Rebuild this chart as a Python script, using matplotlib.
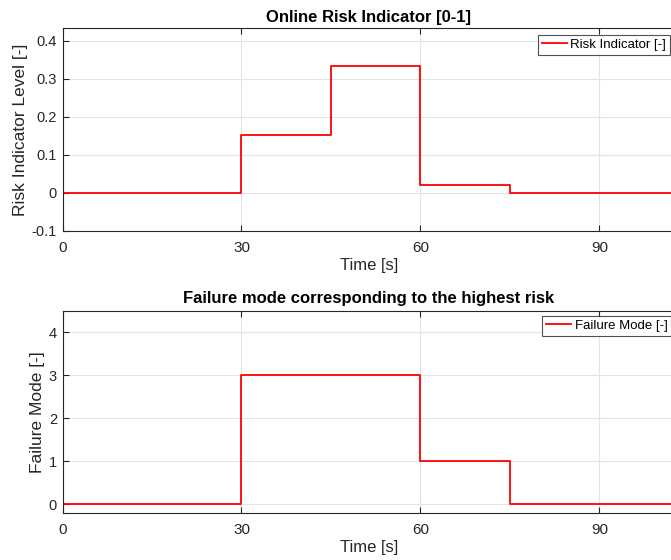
import matplotlib
matplotlib.use("Agg")
import matplotlib.pyplot as plt

plt.rcParams['font.family'] = ['Liberation Sans', 'DejaVu Sans']

# Step signals (value holds from each time point until the next)
time_s = [0, 30, 45, 60, 75, 105]
risk_level = [0.0, 0.152, 0.333, 0.02, 0.0, 0.0]
failure_mode = [0, 3, 3, 1, 0, 0]

x_ticks = [0, 30, 60, 90]
risk_ticks = [-0.1, 0, 0.1, 0.2, 0.3, 0.4]
risk_ticklabels = ['-0.1', '0', '0.1', '0.2', '0.3', '0.4']
mode_ticks = [0, 1, 2, 3, 4]

W, H = 671, 560
fig = plt.figure(figsize=(W / 100, H / 100), dpi=100)

spine_col = '#262626'
text_col = '#262626'
grid_col = '#e3e3e3'
X_LEFT, X_RIGHT = 62.5, 675.0
X_MAX = (X_RIGHT - X_LEFT) / 179 * 30


def px_axes(left, top, right, bottom):
    return fig.add_axes([left / W, 1 - bottom / H, (right - left) / W, (bottom - top) / H])


def style(ax):
    ax.grid(True, color=grid_col, linewidth=0.8)
    ax.set_axisbelow(True)
    for s in ax.spines.values():
        s.set_color(spine_col)
        s.set_linewidth(0.8)
    ax.tick_params(direction='in', length=4, width=0.8, colors=spine_col,
                   top=True, right=False)
    ax.tick_params(axis='x', labelsize=11, pad=7)
    ax.tick_params(axis='y', labelsize=10.5, pad=4)


def add_legend(ax, left_px, top_px):
    leg = ax.legend(loc='upper left', bbox_to_anchor=(left_px / W, 1 - top_px / H),
                    bbox_transform=fig.transFigure, fontsize=9.5, frameon=True,
                    fancybox=False, borderpad=0.3, handlelength=1.9,
                    handletextpad=0.25, borderaxespad=0)
    leg.get_frame().set_edgecolor(spine_col)
    leg.get_frame().set_linewidth(0.8)
    return leg


ax1 = px_axes(X_LEFT, 28, X_RIGHT, 231)
ax1.step(time_s, risk_level, where='post', color='#ff0000', linewidth=1.3,
         label='Risk Indicator [-]')
ax1.set_xlim(0, X_MAX)
ax1.set_ylim(-0.1, 0.4333)
ax1.set_xticks(x_ticks)
ax1.set_yticks(risk_ticks)
ax1.set_yticklabels(risk_ticklabels)
style(ax1)
ax1.set_title('Online Risk Indicator [0-1]', fontsize=12, fontweight='bold', pad=4.5)
ax1.set_xlabel('Time [s]', fontsize=12, color=text_col, labelpad=2.5)
ax1.set_ylabel('Risk Indicator Level [-]', fontsize=12.5, color=text_col, labelpad=3)
add_legend(ax1, 537.7, 34.7)

ax2 = px_axes(X_LEFT, 311, X_RIGHT, 513)
ax2.step(time_s, failure_mode, where='post', color='#ff0000', linewidth=1.3,
         label='Failure Mode [-]')
ax2.set_xlim(0, X_MAX)
ax2.set_ylim(-0.2, 4.5)
ax2.set_xticks(x_ticks)
ax2.set_yticks(mode_ticks)
style(ax2)
ax2.set_title('Failure mode corresponding to the highest risk', fontsize=12,
              fontweight='bold', pad=5.5)
ax2.set_xlabel('Time [s]', fontsize=12, color=text_col, labelpad=2.5)
ax2.set_ylabel('Failure Mode [-]', fontsize=12.5, color=text_col, labelpad=3)
add_legend(ax2, 542.3, 315.7)

fig.savefig('out.png', dpi=100)
